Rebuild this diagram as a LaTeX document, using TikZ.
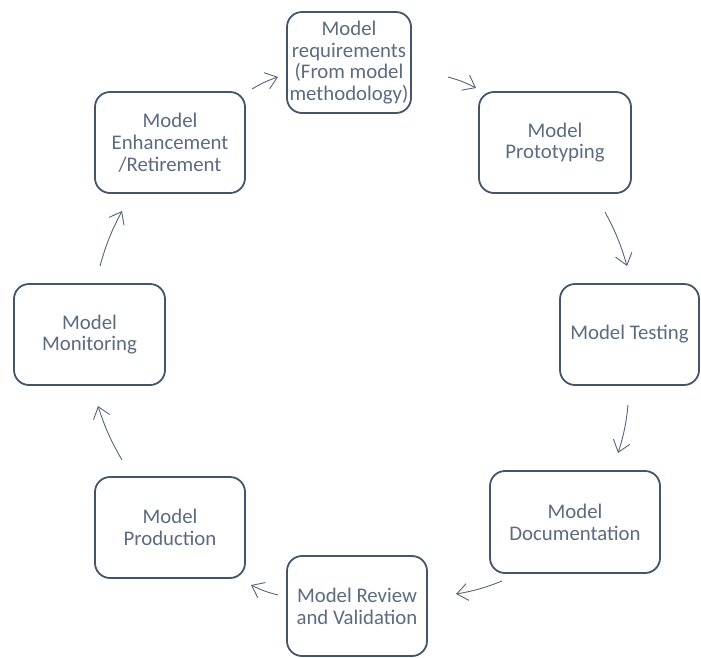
\documentclass[tikz,border=0pt]{standalone}
\usepackage{fontspec}
\setmainfont{Carlito}
\newfontfamily\boxfont[Scale=2.08]{Carlito}
\newcommand\stagefont{\boxfont\setlength{\baselineskip}{21.8pt}}
\usetikzlibrary{arrows.meta}
\definecolor{boxline}{HTML}{44546A}
\definecolor{boxtext}{HTML}{5C6B80}
\definecolor{arrowline}{HTML}{56657A}
\begin{document}
\begin{tikzpicture}[x=1pt,y=-1pt,
  stage/.style={draw=boxline, line width=1.8pt, rounded corners=15pt, fill=white,
    text=boxtext, align=center, font=\stagefont,
    inner sep=0pt},
  flow/.style={draw=arrowline, line width=0.9pt, bend left=6,
    -{Straight Barb[length=11pt,width=17pt,line width=0.9pt]}}]
\useasboundingbox (0,0) rectangle (701,657);
\node[stage, minimum width=124pt, minimum height=101pt] (req) at (349,62.5) {Model\\requirements\\(From model\\methodology)};
\node[stage, minimum width=152pt, minimum height=101pt] (proto) at (555,142.5) {Model\\Prototyping};
\node[stage, minimum width=139pt, minimum height=101pt] (test) at (629.5,334.5) {Model Testing};
\node[stage, minimum width=170pt, minimum height=102pt] (doc) at (575,522) {Model\\Documentation};
\node[stage, minimum width=140pt, minimum height=100pt] (rev) at (357,606) {Model Review\\and Validation};
\node[stage, minimum width=150pt, minimum height=101pt] (prod) at (170,527.5) {Model\\Production};
\node[stage, minimum width=151pt, minimum height=101pt] (mon) at (89.5,334.5) {Model\\Monitoring};
\node[stage, minimum width=150pt, minimum height=101pt] (enh) at (170,142.5) {Model\\Enhancement\\/Retirement};
\coordinate (e1) at (252,89);   \coordinate (e2) at (278,77);
\coordinate (r1) at (448,77);   \coordinate (r2) at (476,88);
\coordinate (p1) at (605,212);  \coordinate (p2) at (627,266);
\coordinate (t1) at (628,405);  \coordinate (t2) at (618,453);
\coordinate (d1) at (502,581);  \coordinate (d2) at (456,594);
\coordinate (v1) at (278,595);  \coordinate (v2) at (251,585);
\coordinate (o1) at (122,460);  \coordinate (o2) at (98,406);
\coordinate (m1) at (100,266);  \coordinate (m2) at (122,211);
\draw[flow] (e1) to (e2);
\draw[flow] (r1) to (r2);
\draw[flow] (p1) to (p2);
\draw[flow] (t1) to (t2);
\draw[flow] (d1) to (d2);
\draw[flow] (v1) to (v2);
\draw[flow] (o1) to (o2);
\draw[flow] (m1) to (m2);
\end{tikzpicture}
\end{document}
